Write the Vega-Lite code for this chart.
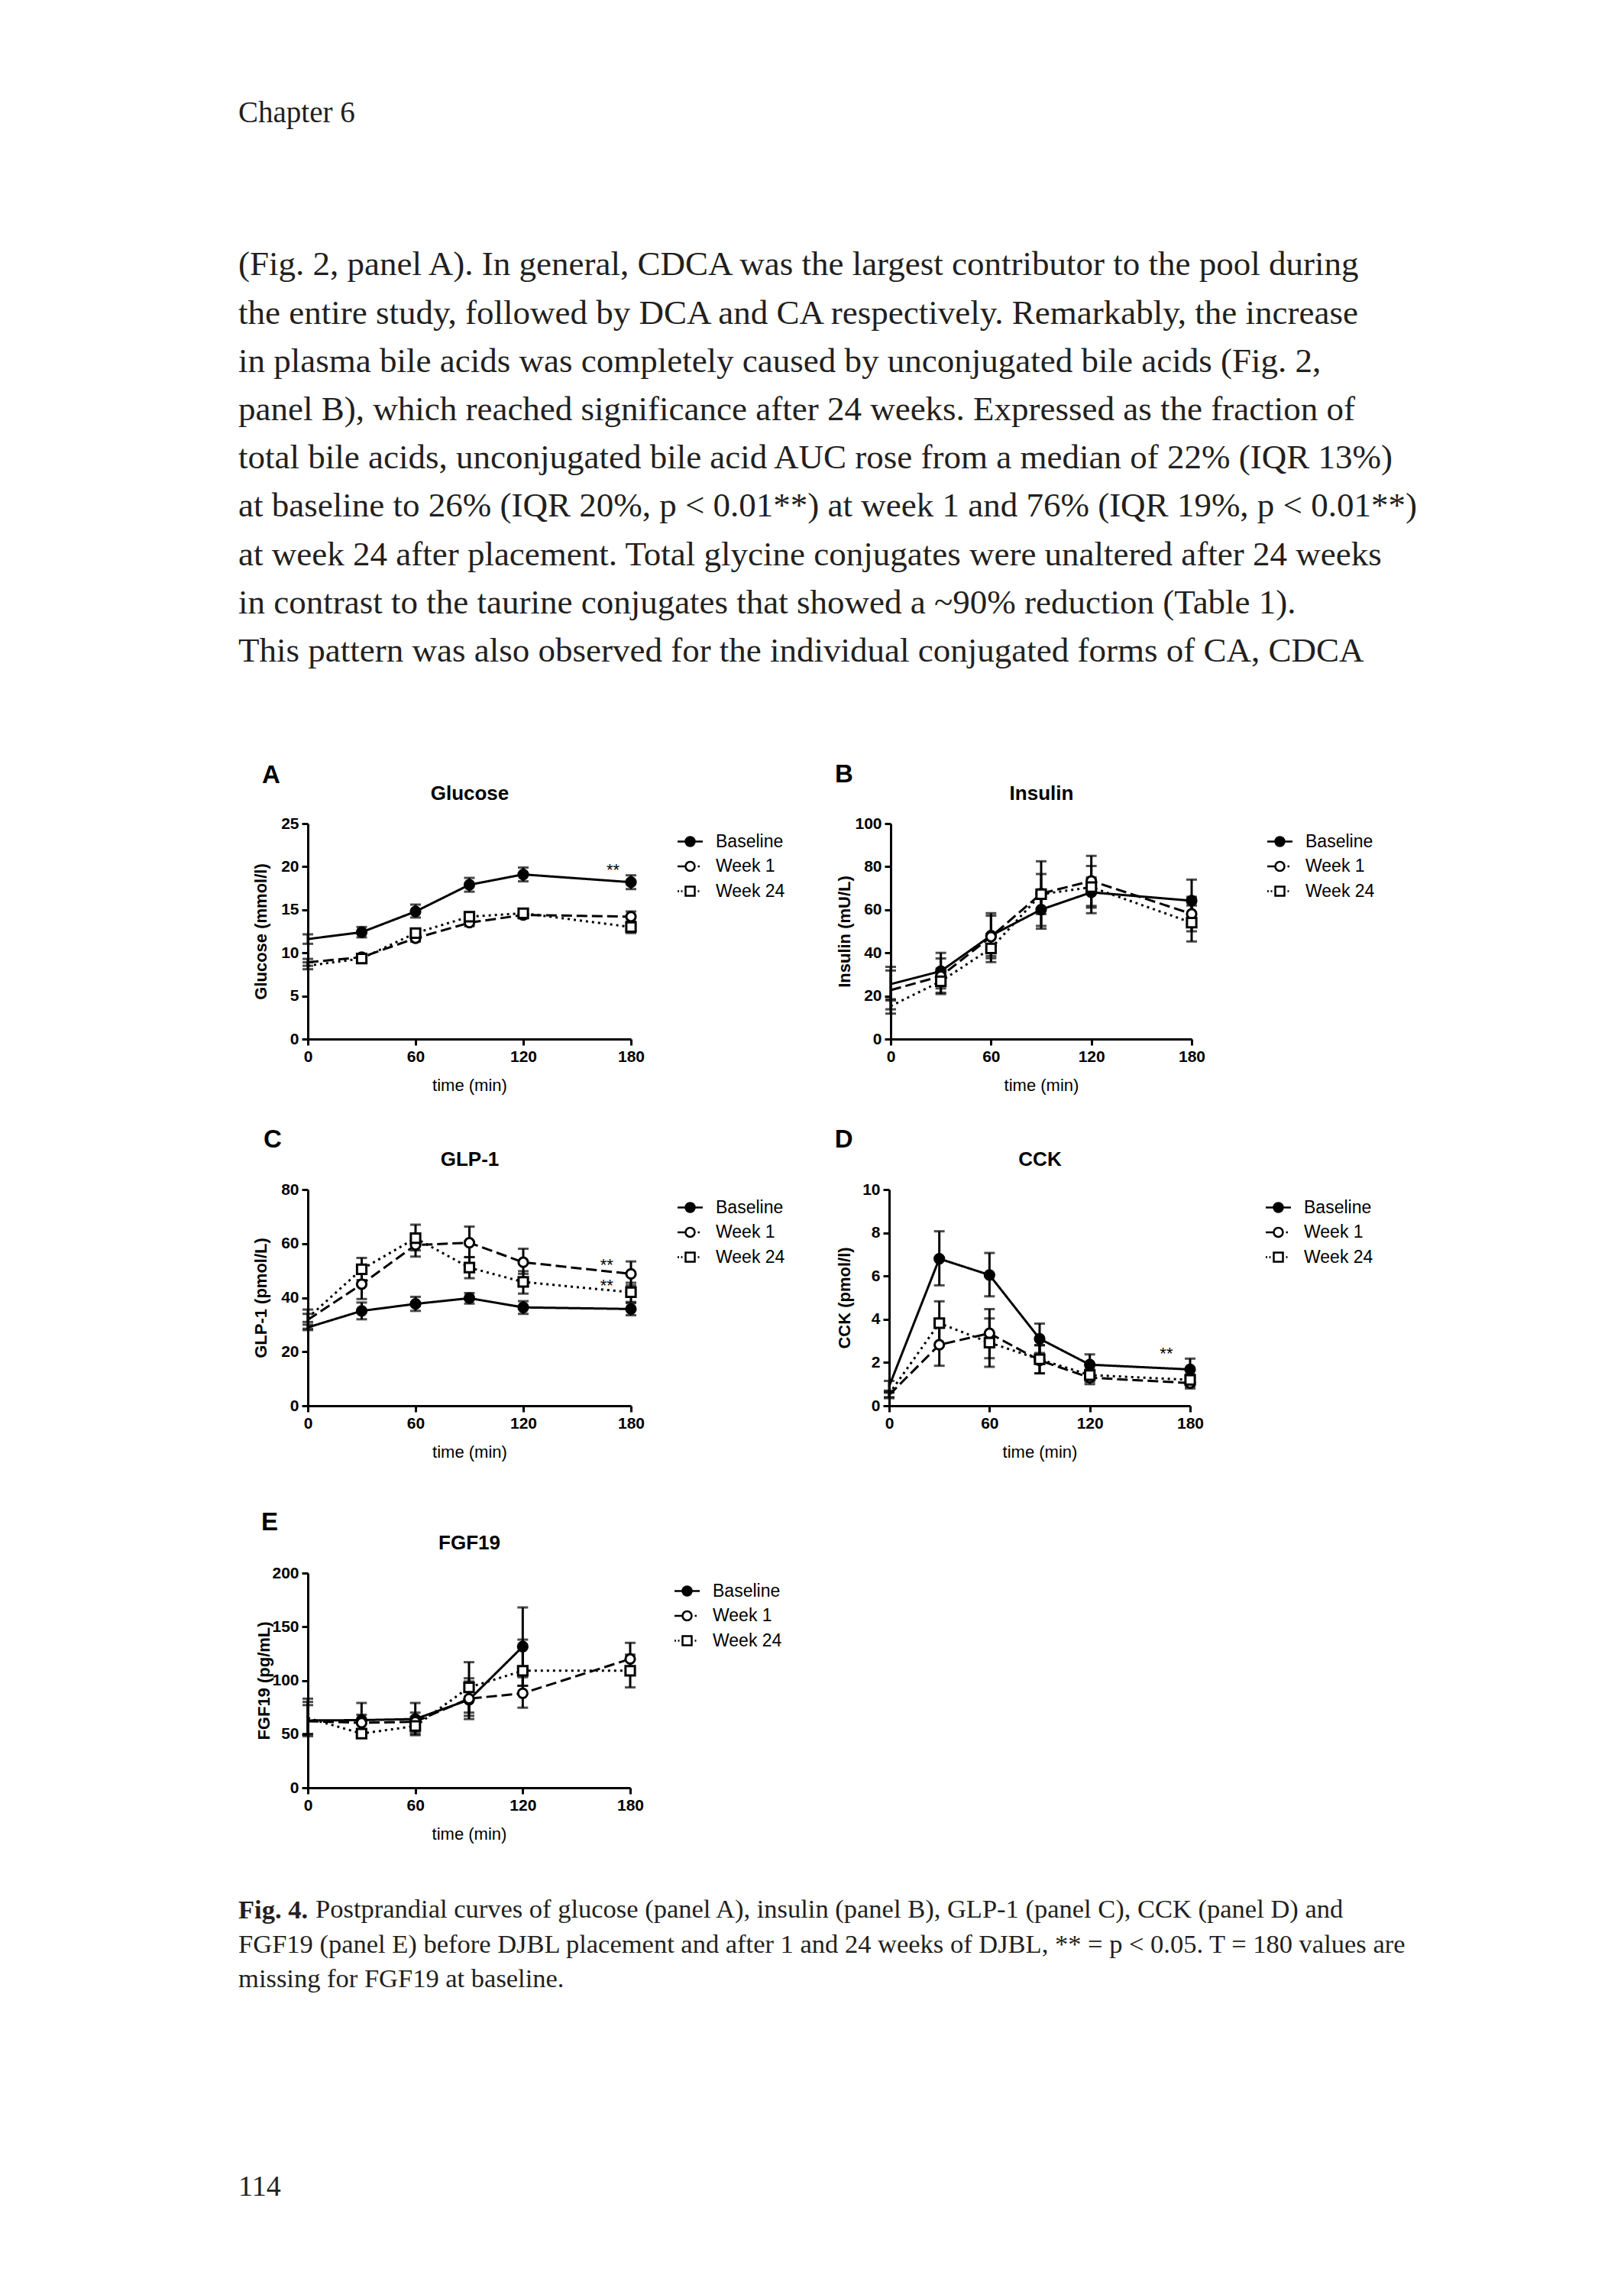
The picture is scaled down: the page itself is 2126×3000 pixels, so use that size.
{
"$schema": "https://vega.github.io/schema/vega-lite/v6.json",
"background": "white",
"padding": {"left": 312, "top": 129, "right": 20, "bottom": 20},
"config": {
  "view": {"stroke": null},
  "font": "Liberation Sans",
  "axis": {"domainColor": "black", "domainWidth": 3, "tickColor": "black", "tickWidth": 3, "tickSize": 8, "labelFont": "Liberation Sans", "labelFontSize": 21, "labelFontWeight": "bold", "labelColor": "black", "labelPadding": 4, "labelFlush": false, "grid": false, "titleFont": "Liberation Sans", "titleColor": "black", "titleFontSize": 22},
  "axisX": {"titleFontWeight": "normal", "titlePadding": 17},
  "axisY": {"titleFontWeight": "bold"},
  "legend": {"padding": 12, "symbolSize": 400, "symbolStrokeWidth": 2.5, "symbolStrokeColor": "black", "labelOffset": 22, "rowPadding": 8.5, "labelFontSize": 23, "labelFont": "Liberation Sans", "labelColor": "black"}
},
"datasets": {
  "d": [
    {"p":"A","s":"Baseline","t":0,"m":11.6,"lo":11.05,"hi":12.15},
    {"p":"A","s":"Baseline","t":30,"m":12.4,"lo":11.8,"hi":13.0},
    {"p":"A","s":"Baseline","t":60,"m":14.8,"lo":14.1,"hi":15.6},
    {"p":"A","s":"Baseline","t":90,"m":17.9,"lo":17.1,"hi":18.7},
    {"p":"A","s":"Baseline","t":120,"m":19.1,"lo":18.3,"hi":19.9},
    {"p":"A","s":"Baseline","t":180,"m":18.2,"lo":17.4,"hi":19.0},
    {"p":"A","s":"Week 1","t":0,"m":8.9,"lo":8.5,"hi":9.3},
    {"p":"A","s":"Week 1","t":30,"m":9.5,"lo":9.1,"hi":9.9},
    {"p":"A","s":"Week 1","t":60,"m":11.7,"lo":11.3,"hi":12.1},
    {"p":"A","s":"Week 1","t":90,"m":13.5,"lo":13.1,"hi":13.9},
    {"p":"A","s":"Week 1","t":120,"m":14.4,"lo":14.0,"hi":14.8},
    {"p":"A","s":"Week 1","t":180,"m":14.2,"lo":13.6,"hi":14.8},
    {"p":"A","s":"Week 24","t":0,"m":8.5,"lo":8.1,"hi":8.9},
    {"p":"A","s":"Week 24","t":30,"m":9.35,"lo":9.0,"hi":9.7},
    {"p":"A","s":"Week 24","t":60,"m":12.3,"lo":11.9,"hi":12.7},
    {"p":"A","s":"Week 24","t":90,"m":14.2,"lo":13.8,"hi":14.6},
    {"p":"A","s":"Week 24","t":120,"m":14.6,"lo":14.1,"hi":15.0},
    {"p":"A","s":"Week 24","t":180,"m":13.0,"lo":12.3,"hi":13.6},
    {"p":"B","s":"Baseline","t":0,"m":25.5,"lo":17.9,"hi":33.5},
    {"p":"B","s":"Baseline","t":30,"m":31.5,"lo":23.5,"hi":40.0},
    {"p":"B","s":"Baseline","t":60,"m":48.0,"lo":38.6,"hi":58.4},
    {"p":"B","s":"Baseline","t":90,"m":60.1,"lo":51.2,"hi":69.0},
    {"p":"B","s":"Baseline","t":120,"m":68.1,"lo":61.0,"hi":75.0},
    {"p":"B","s":"Baseline","t":180,"m":64.2,"lo":55.0,"hi":74.0},
    {"p":"B","s":"Week 1","t":0,"m":22.7,"lo":13.8,"hi":31.8},
    {"p":"B","s":"Week 1","t":30,"m":29.2,"lo":21.5,"hi":37.4},
    {"p":"B","s":"Week 1","t":60,"m":47.5,"lo":37.5,"hi":57.3},
    {"p":"B","s":"Week 1","t":90,"m":67.5,"lo":52.5,"hi":82.5},
    {"p":"B","s":"Week 1","t":120,"m":73.4,"lo":61.8,"hi":85.0},
    {"p":"B","s":"Week 1","t":180,"m":58.1,"lo":50.0,"hi":66.0},
    {"p":"B","s":"Week 24","t":0,"m":15.3,"lo":11.8,"hi":18.5},
    {"p":"B","s":"Week 24","t":30,"m":26.8,"lo":20.9,"hi":32.7},
    {"p":"B","s":"Week 24","t":60,"m":42.1,"lo":35.7,"hi":48.5},
    {"p":"B","s":"Week 24","t":90,"m":67.2,"lo":58.0,"hi":76.6},
    {"p":"B","s":"Week 24","t":120,"m":70.5,"lo":58.4,"hi":80.3},
    {"p":"B","s":"Week 24","t":180,"m":54.0,"lo":45.3,"hi":62.0},
    {"p":"C","s":"Baseline","t":0,"m":29.0,"lo":28.0,"hi":30.0},
    {"p":"C","s":"Baseline","t":30,"m":35.1,"lo":32.0,"hi":38.2},
    {"p":"C","s":"Baseline","t":60,"m":37.7,"lo":35.1,"hi":40.3},
    {"p":"C","s":"Baseline","t":90,"m":39.8,"lo":37.8,"hi":41.7},
    {"p":"C","s":"Baseline","t":120,"m":36.4,"lo":34.0,"hi":38.7},
    {"p":"C","s":"Baseline","t":180,"m":35.8,"lo":33.5,"hi":38.0},
    {"p":"C","s":"Week 1","t":0,"m":31.8,"lo":28.5,"hi":35.6},
    {"p":"C","s":"Week 1","t":30,"m":45.0,"lo":39.5,"hi":50.5},
    {"p":"C","s":"Week 1","t":60,"m":59.5,"lo":55.2,"hi":63.5},
    {"p":"C","s":"Week 1","t":90,"m":60.3,"lo":55.0,"hi":66.3},
    {"p":"C","s":"Week 1","t":120,"m":53.1,"lo":48.8,"hi":58.1},
    {"p":"C","s":"Week 1","t":180,"m":48.8,"lo":44.5,"hi":53.4},
    {"p":"C","s":"Week 24","t":0,"m":32.5,"lo":31.0,"hi":34.0},
    {"p":"C","s":"Week 24","t":30,"m":50.5,"lo":46.5,"hi":54.7},
    {"p":"C","s":"Week 24","t":60,"m":62.0,"lo":57.5,"hi":67.0},
    {"p":"C","s":"Week 24","t":90,"m":51.1,"lo":47.2,"hi":55.0},
    {"p":"C","s":"Week 24","t":120,"m":45.8,"lo":41.5,"hi":49.8},
    {"p":"C","s":"Week 24","t":180,"m":42.0,"lo":38.4,"hi":45.5},
    {"p":"D","s":"Baseline","t":0,"m":0.9,"lo":0.6,"hi":1.15},
    {"p":"D","s":"Baseline","t":30,"m":6.8,"lo":5.57,"hi":8.07},
    {"p":"D","s":"Baseline","t":60,"m":6.05,"lo":5.06,"hi":7.07},
    {"p":"D","s":"Baseline","t":90,"m":3.1,"lo":2.44,"hi":3.8},
    {"p":"D","s":"Baseline","t":120,"m":1.9,"lo":1.44,"hi":2.38},
    {"p":"D","s":"Baseline","t":180,"m":1.68,"lo":1.2,"hi":2.18},
    {"p":"D","s":"Week 1","t":0,"m":0.5,"lo":0.35,"hi":0.65},
    {"p":"D","s":"Week 1","t":30,"m":2.82,"lo":1.85,"hi":3.8},
    {"p":"D","s":"Week 1","t":60,"m":3.35,"lo":2.2,"hi":4.47},
    {"p":"D","s":"Week 1","t":90,"m":2.1,"lo":1.5,"hi":2.8},
    {"p":"D","s":"Week 1","t":120,"m":1.3,"lo":1.0,"hi":1.6},
    {"p":"D","s":"Week 1","t":180,"m":1.05,"lo":0.8,"hi":1.3},
    {"p":"D","s":"Week 24","t":0,"m":0.55,"lo":0.4,"hi":0.7},
    {"p":"D","s":"Week 24","t":30,"m":3.82,"lo":2.82,"hi":4.83},
    {"p":"D","s":"Week 24","t":60,"m":2.92,"lo":1.8,"hi":4.04},
    {"p":"D","s":"Week 24","t":90,"m":2.15,"lo":1.5,"hi":2.8},
    {"p":"D","s":"Week 24","t":120,"m":1.42,"lo":1.1,"hi":1.7},
    {"p":"D","s":"Week 24","t":180,"m":1.2,"lo":0.9,"hi":1.45},
    {"p":"E","s":"Baseline","t":0,"m":62.7,"lo":48,"hi":83},
    {"p":"E","s":"Baseline","t":30,"m":63,"lo":50,"hi":79},
    {"p":"E","s":"Baseline","t":60,"m":64,"lo":50,"hi":79},
    {"p":"E","s":"Baseline","t":90,"m":82,"lo":64,"hi":102},
    {"p":"E","s":"Baseline","t":120,"m":131.5,"lo":95,"hi":168},
    {"p":"E","s":"Week 1","t":0,"m":62,"lo":50,"hi":77},
    {"p":"E","s":"Week 1","t":30,"m":60.5,"lo":52,"hi":68},
    {"p":"E","s":"Week 1","t":60,"m":61.5,"lo":52,"hi":70},
    {"p":"E","s":"Week 1","t":90,"m":83,"lo":67,"hi":99},
    {"p":"E","s":"Week 1","t":120,"m":88,"lo":74.6,"hi":103},
    {"p":"E","s":"Week 1","t":180,"m":120,"lo":107,"hi":135},
    {"p":"E","s":"Week 24","t":0,"m":65,"lo":50,"hi":80},
    {"p":"E","s":"Week 24","t":30,"m":50.5,"lo":48,"hi":53},
    {"p":"E","s":"Week 24","t":60,"m":57.5,"lo":49,"hi":66},
    {"p":"E","s":"Week 24","t":90,"m":93.5,"lo":70,"hi":117},
    {"p":"E","s":"Week 24","t":120,"m":109,"lo":95,"hi":138},
    {"p":"E","s":"Week 24","t":180,"m":109,"lo":93.5,"hi":124}
  ],
  "ann": [
    {"p":"A","t":170,"v":20.0,"label":"**"},
    {"p":"C","t":166.5,"v":53.5,"label":"**"},
    {"p":"C","t":166.5,"v":45.8,"label":"**"},
    {"p":"D","t":165.8,"v":2.59,"label":"**"}
  ]
},
"title": {"text": "114", "orient": "bottom", "anchor": "start", "frame": "bounds", "offset": 236, "font": "Liberation Serif", "fontSize": 38, "fontWeight": "normal", "color": "#231f20"},
"vconcat": [{
 "title": {"text": ["FGF19 (panel E) before DJBL placement and after 1 and 24 weeks of DJBL, ** = p < 0.05. T = 180 values are", "missing for FGF19 at baseline."], "lineHeight": 45.5, "orient": "bottom", "anchor": "start", "frame": "bounds", "offset": 11, "font": "Liberation Serif", "fontSize": 34.5, "fontWeight": "normal", "color": "#231f20"},
 "vconcat": [{
  "title": {"text": "Postprandial curves of glucose (panel A), insulin (panel B), GLP-1 (panel C), CCK (panel D) and", "orient": "bottom", "anchor": "start", "frame": "bounds", "dx": 101, "offset": -34.5, "font": "Liberation Serif", "fontSize": 34.5, "fontWeight": "normal", "color": "#231f20"},
  "vconcat": [{
   "title": {"text": "Fig. 4.", "orient": "bottom", "anchor": "start", "frame": "bounds", "offset": 73, "font": "Liberation Serif", "fontSize": 34.5, "fontWeight": "bold", "color": "#231f20"},
   "vconcat": [{
    "title": {"text": "Chapter 6", "subtitle": ["(Fig. 2, panel A). In general, CDCA was the largest contributor to the pool during", "the entire study, followed by DCA and CA respectively. Remarkably, the increase", "in plasma bile acids was completely caused by unconjugated bile acids (Fig. 2,", "panel B), which reached significance after 24 weeks. Expressed as the fraction of", "total bile acids, unconjugated bile acid AUC rose from a median of 22% (IQR 13%)", "at baseline to 26% (IQR 20%, p < 0.01**) at week 1 and 76% (IQR 19%, p < 0.01**)", "at week 24 after placement. Total glycine conjugates were unaltered after 24 weeks", "in contrast to the taurine conjugates that showed a ~90% reduction (Table 1).", "This pattern was also observed for the individual conjugated forms of CA, CDCA"], "anchor": "start", "frame": "bounds", "dx": -18, "offset": 123, "font": "Liberation Serif", "fontSize": 39, "fontWeight": "normal", "color": "#231f20", "subtitleFont": "Liberation Serif", "subtitleFontSize": 45, "subtitleColor": "#231f20", "subtitleLineHeight": 63.2, "subtitlePadding": 156},
    "spacing": 66,
    "resolve": {"scale": {"shape": "independent", "fill": "independent", "strokeDash": "independent"}},
    "vconcat": [
     {"spacing": 45,
      "resolve": {"scale": {"shape": "independent", "fill": "independent", "strokeDash": "independent"}},
      "vconcat": [
       {"hconcat": [
         {"width": 423, "height": 282,
          "title": {"text": "A", "anchor": "start", "frame": "bounds", "dx": 13, "offset": -33, "baseline": "alphabetic", "fontSize": 33, "fontWeight": "bold", "font": "Liberation Sans", "color": "black"},
          "data": {"name": "d"},
          "transform": [{"filter": "datum.p === 'A'"}],
          "resolve": {"axis": {"x": "independent"}},
          "layer": [
           {"mark": {"type": "rule", "strokeWidth": 3, "color": "black"},
            "encoding": {"x": {"field": "t", "type": "quantitative", "scale": {"domain": [0,180], "nice": false}, "axis": {"values": [0,60,120,180], "title": "time (min)"}},
                         "y": {"field": "lo", "type": "quantitative", "title": "Glucose (mmol/l)", "scale": {"domain": [0,25], "nice": false}, "axis": {"values": [0,5,10,15,20,25], "titlePadding": 14.6}},
                         "y2": {"field": "hi"}}},
           {"mark": {"type": "tick", "orient": "horizontal", "size": 14, "thickness": 3, "color": "black"},
            "encoding": {"x": {"field": "t", "type": "quantitative", "scale": {"domain": [0,180], "nice": false}, "axis": null}, "y": {"field": "lo", "type": "quantitative", "title": "Glucose (mmol/l)", "scale": {"domain": [0,25], "nice": false}}}},
           {"mark": {"type": "tick", "orient": "horizontal", "size": 14, "thickness": 3, "color": "black"},
            "encoding": {"x": {"field": "t", "type": "quantitative", "scale": {"domain": [0,180], "nice": false}, "axis": null}, "y": {"field": "hi", "type": "quantitative", "title": "Glucose (mmol/l)", "scale": {"domain": [0,25], "nice": false}}}},
           {"mark": {"type": "line", "strokeWidth": 3, "color": "black", "strokeCap": "butt"},
            "encoding": {"x": {"field": "t", "type": "quantitative", "scale": {"domain": [0,180], "nice": false}, "axis": null}, "y": {"field": "m", "type": "quantitative", "title": "Glucose (mmol/l)", "scale": {"domain": [0,25], "nice": false}},
                         "detail": {"field": "s"},
                         "strokeDash": {"condition": [{"test": "datum.s === 'Week 1'", "value": [14,6]}, {"test": "datum.s === 'Week 24'", "value": [3,5]}], "value": [1,0]}}},
           {"transform": [{"filter": "datum.t > 0"}],
            "mark": {"type": "point", "filled": true, "size": 150, "stroke": "black", "strokeWidth": 3, "opacity": 1},
            "encoding": {"x": {"field": "t", "type": "quantitative", "scale": {"domain": [0,180], "nice": false}, "axis": null}, "y": {"field": "m", "type": "quantitative", "title": "Glucose (mmol/l)", "scale": {"domain": [0,25], "nice": false}},
                         "shape": {"condition": {"test": "datum.s === 'Week 24'", "value": "square"}, "value": "circle"},
                         "fill": {"field": "s", "type": "nominal", "scale": {"domain": ["Baseline","Week 1","Week 24"], "range": ["black","white","white"]},
                                   "legend": {"title": null, "orient": "right", "offset": 48, "encoding": {"symbols": {"shape": {"value": {"expr": "datum.value === 'Baseline' ? 'M-1.65,0H-0.6M0.6,0H1.65M-0.6,0A0.6,0.6,0,1,1,0.6,0A0.6,0.6,0,1,1,-0.6,0Z' : datum.value === 'Week 1' ? 'M-1.65,0H-0.6M1.0,0H1.25M-0.6,0A0.6,0.6,0,1,1,0.6,0A0.6,0.6,0,1,1,-0.6,0Z' : 'M-1.65,0H-1.45M-1.2,0H-1.0M1.0,0H1.2M-0.6,-0.6H0.6V0.6H-0.6Z'"}}, "stroke": {"value": "black"}, "strokeWidth": {"value": 2.5}, "opacity": {"value": 1}}}}}}},
           {"data": {"name": "ann"}, "transform": [{"filter": "datum.p === 'A'"}],
            "mark": {"type": "text", "fontSize": 22, "font": "Liberation Sans", "color": "black", "dy": 5},
            "encoding": {"x": {"field": "t", "type": "quantitative", "scale": {"domain": [0,180], "nice": false}, "axis": {"orient": "top", "title": "Glucose", "labels": false, "ticks": false, "domain": false, "titleFontSize": 26, "titleFontWeight": "bold", "titlePadding": 27}},
                         "y": {"field": "v", "type": "quantitative", "title": "Glucose (mmol/l)", "scale": {"domain": [0,25], "nice": false}},
                         "text": {"field": "label"}}}
          ]},
         {"width": 394, "height": 282,
          "title": {"text": "B", "anchor": "start", "frame": "bounds", "dx": -2, "offset": -32, "baseline": "alphabetic", "fontSize": 33, "fontWeight": "bold", "font": "Liberation Sans", "color": "black"},
          "data": {"name": "d"},
          "transform": [{"filter": "datum.p === 'B'"}],
          "resolve": {"axis": {"x": "independent"}},
          "layer": [
           {"mark": {"type": "rule", "strokeWidth": 3, "color": "black"},
            "encoding": {"x": {"field": "t", "type": "quantitative", "scale": {"domain": [0,180], "nice": false}, "axis": {"values": [0,60,120,180], "title": "time (min)"}},
                         "y": {"field": "lo", "type": "quantitative", "title": "Insulin (mU/L)", "scale": {"domain": [0,100], "nice": false}, "axis": {"values": [0,20,40,60,80,100], "titlePadding": 1}},
                         "y2": {"field": "hi"}}},
           {"mark": {"type": "tick", "orient": "horizontal", "size": 14, "thickness": 3, "color": "black"},
            "encoding": {"x": {"field": "t", "type": "quantitative", "scale": {"domain": [0,180], "nice": false}, "axis": null}, "y": {"field": "lo", "type": "quantitative", "title": "Insulin (mU/L)", "scale": {"domain": [0,100], "nice": false}}}},
           {"mark": {"type": "tick", "orient": "horizontal", "size": 14, "thickness": 3, "color": "black"},
            "encoding": {"x": {"field": "t", "type": "quantitative", "scale": {"domain": [0,180], "nice": false}, "axis": null}, "y": {"field": "hi", "type": "quantitative", "title": "Insulin (mU/L)", "scale": {"domain": [0,100], "nice": false}}}},
           {"mark": {"type": "line", "strokeWidth": 3, "color": "black", "strokeCap": "butt"},
            "encoding": {"x": {"field": "t", "type": "quantitative", "scale": {"domain": [0,180], "nice": false}, "axis": null}, "y": {"field": "m", "type": "quantitative", "title": "Insulin (mU/L)", "scale": {"domain": [0,100], "nice": false}},
                         "detail": {"field": "s"},
                         "strokeDash": {"condition": [{"test": "datum.s === 'Week 1'", "value": [14,6]}, {"test": "datum.s === 'Week 24'", "value": [3,5]}], "value": [1,0]}}},
           {"transform": [{"filter": "datum.t > 0"}],
            "mark": {"type": "point", "filled": true, "size": 150, "stroke": "black", "strokeWidth": 3, "opacity": 1},
            "encoding": {"x": {"field": "t", "type": "quantitative", "scale": {"domain": [0,180], "nice": false}, "axis": null}, "y": {"field": "m", "type": "quantitative", "title": "Insulin (mU/L)", "scale": {"domain": [0,100], "nice": false}},
                         "shape": {"condition": {"test": "datum.s === 'Week 24'", "value": "square"}, "value": "circle"},
                         "fill": {"field": "s", "type": "nominal", "scale": {"domain": ["Baseline","Week 1","Week 24"], "range": ["black","white","white"]},
                                   "legend": {"title": null, "orient": "right", "offset": 86, "encoding": {"symbols": {"shape": {"value": {"expr": "datum.value === 'Baseline' ? 'M-1.65,0H-0.6M0.6,0H1.65M-0.6,0A0.6,0.6,0,1,1,0.6,0A0.6,0.6,0,1,1,-0.6,0Z' : datum.value === 'Week 1' ? 'M-1.65,0H-0.6M1.0,0H1.25M-0.6,0A0.6,0.6,0,1,1,0.6,0A0.6,0.6,0,1,1,-0.6,0Z' : 'M-1.65,0H-1.45M-1.2,0H-1.0M1.0,0H1.2M-0.6,-0.6H0.6V0.6H-0.6Z'"}}, "stroke": {"value": "black"}, "strokeWidth": {"value": 2.5}, "opacity": {"value": 1}}}}}}},
           {"data": {"name": "ann"}, "transform": [{"filter": "datum.p === 'B'"}],
            "mark": {"type": "text", "fontSize": 22, "font": "Liberation Sans", "color": "black", "dy": 5},
            "encoding": {"x": {"field": "t", "type": "quantitative", "scale": {"domain": [0,180], "nice": false}, "axis": {"orient": "top", "title": "Insulin", "labels": false, "ticks": false, "domain": false, "titleFontSize": 26, "titleFontWeight": "bold", "titlePadding": 27}},
                         "y": {"field": "v", "type": "quantitative", "title": "Insulin (mU/L)", "scale": {"domain": [0,100], "nice": false}},
                         "text": {"field": "label"}}}
          ]}
        ],
        "spacing": 52,
        "resolve": {"scale": {"shape": "independent", "fill": "independent", "strokeDash": "independent"}}},
       {"hconcat": [
         {"width": 423, "height": 283,
          "title": {"text": "C", "anchor": "start", "frame": "bounds", "dx": 15, "offset": -31, "baseline": "alphabetic", "fontSize": 33, "fontWeight": "bold", "font": "Liberation Sans", "color": "black"},
          "data": {"name": "d"},
          "transform": [{"filter": "datum.p === 'C'"}],
          "resolve": {"axis": {"x": "independent"}},
          "layer": [
           {"mark": {"type": "rule", "strokeWidth": 3, "color": "black"},
            "encoding": {"x": {"field": "t", "type": "quantitative", "scale": {"domain": [0,180], "nice": false}, "axis": {"values": [0,60,120,180], "title": "time (min)"}},
                         "y": {"field": "lo", "type": "quantitative", "title": "GLP-1 (pmol/L)", "scale": {"domain": [0,80], "nice": false}, "axis": {"values": [0,20,40,60,80], "titlePadding": 14.6}},
                         "y2": {"field": "hi"}}},
           {"mark": {"type": "tick", "orient": "horizontal", "size": 14, "thickness": 3, "color": "black"},
            "encoding": {"x": {"field": "t", "type": "quantitative", "scale": {"domain": [0,180], "nice": false}, "axis": null}, "y": {"field": "lo", "type": "quantitative", "title": "GLP-1 (pmol/L)", "scale": {"domain": [0,80], "nice": false}}}},
           {"mark": {"type": "tick", "orient": "horizontal", "size": 14, "thickness": 3, "color": "black"},
            "encoding": {"x": {"field": "t", "type": "quantitative", "scale": {"domain": [0,180], "nice": false}, "axis": null}, "y": {"field": "hi", "type": "quantitative", "title": "GLP-1 (pmol/L)", "scale": {"domain": [0,80], "nice": false}}}},
           {"mark": {"type": "line", "strokeWidth": 3, "color": "black", "strokeCap": "butt"},
            "encoding": {"x": {"field": "t", "type": "quantitative", "scale": {"domain": [0,180], "nice": false}, "axis": null}, "y": {"field": "m", "type": "quantitative", "title": "GLP-1 (pmol/L)", "scale": {"domain": [0,80], "nice": false}},
                         "detail": {"field": "s"},
                         "strokeDash": {"condition": [{"test": "datum.s === 'Week 1'", "value": [14,6]}, {"test": "datum.s === 'Week 24'", "value": [3,5]}], "value": [1,0]}}},
           {"transform": [{"filter": "datum.t > 0"}],
            "mark": {"type": "point", "filled": true, "size": 150, "stroke": "black", "strokeWidth": 3, "opacity": 1},
            "encoding": {"x": {"field": "t", "type": "quantitative", "scale": {"domain": [0,180], "nice": false}, "axis": null}, "y": {"field": "m", "type": "quantitative", "title": "GLP-1 (pmol/L)", "scale": {"domain": [0,80], "nice": false}},
                         "shape": {"condition": {"test": "datum.s === 'Week 24'", "value": "square"}, "value": "circle"},
                         "fill": {"field": "s", "type": "nominal", "scale": {"domain": ["Baseline","Week 1","Week 24"], "range": ["black","white","white"]},
                                   "legend": {"title": null, "orient": "right", "offset": 48, "encoding": {"symbols": {"shape": {"value": {"expr": "datum.value === 'Baseline' ? 'M-1.65,0H-0.6M0.6,0H1.65M-0.6,0A0.6,0.6,0,1,1,0.6,0A0.6,0.6,0,1,1,-0.6,0Z' : datum.value === 'Week 1' ? 'M-1.65,0H-0.6M1.0,0H1.25M-0.6,0A0.6,0.6,0,1,1,0.6,0A0.6,0.6,0,1,1,-0.6,0Z' : 'M-1.65,0H-1.45M-1.2,0H-1.0M1.0,0H1.2M-0.6,-0.6H0.6V0.6H-0.6Z'"}}, "stroke": {"value": "black"}, "strokeWidth": {"value": 2.5}, "opacity": {"value": 1}}}}}}},
           {"data": {"name": "ann"}, "transform": [{"filter": "datum.p === 'C'"}],
            "mark": {"type": "text", "fontSize": 22, "font": "Liberation Sans", "color": "black", "dy": 5},
            "encoding": {"x": {"field": "t", "type": "quantitative", "scale": {"domain": [0,180], "nice": false}, "axis": {"orient": "top", "title": "GLP-1", "labels": false, "ticks": false, "domain": false, "titleFontSize": 26, "titleFontWeight": "bold", "titlePadding": 27}},
                         "y": {"field": "v", "type": "quantitative", "title": "GLP-1 (pmol/L)", "scale": {"domain": [0,80], "nice": false}},
                         "text": {"field": "label"}}}
          ]},
         {"width": 394, "height": 283,
          "title": {"text": "D", "anchor": "start", "frame": "bounds", "dx": -2, "offset": -31, "baseline": "alphabetic", "fontSize": 33, "fontWeight": "bold", "font": "Liberation Sans", "color": "black"},
          "data": {"name": "d"},
          "transform": [{"filter": "datum.p === 'D'"}],
          "resolve": {"axis": {"x": "independent"}},
          "layer": [
           {"mark": {"type": "rule", "strokeWidth": 3, "color": "black"},
            "encoding": {"x": {"field": "t", "type": "quantitative", "scale": {"domain": [0,180], "nice": false}, "axis": {"values": [0,60,120,180], "title": "time (min)"}},
                         "y": {"field": "lo", "type": "quantitative", "title": "CCK (pmol/l)", "scale": {"domain": [0,10], "nice": false}, "axis": {"values": [0,2,4,6,8,10], "titlePadding": 11}},
                         "y2": {"field": "hi"}}},
           {"mark": {"type": "tick", "orient": "horizontal", "size": 14, "thickness": 3, "color": "black"},
            "encoding": {"x": {"field": "t", "type": "quantitative", "scale": {"domain": [0,180], "nice": false}, "axis": null}, "y": {"field": "lo", "type": "quantitative", "title": "CCK (pmol/l)", "scale": {"domain": [0,10], "nice": false}}}},
           {"mark": {"type": "tick", "orient": "horizontal", "size": 14, "thickness": 3, "color": "black"},
            "encoding": {"x": {"field": "t", "type": "quantitative", "scale": {"domain": [0,180], "nice": false}, "axis": null}, "y": {"field": "hi", "type": "quantitative", "title": "CCK (pmol/l)", "scale": {"domain": [0,10], "nice": false}}}},
           {"mark": {"type": "line", "strokeWidth": 3, "color": "black", "strokeCap": "butt"},
            "encoding": {"x": {"field": "t", "type": "quantitative", "scale": {"domain": [0,180], "nice": false}, "axis": null}, "y": {"field": "m", "type": "quantitative", "title": "CCK (pmol/l)", "scale": {"domain": [0,10], "nice": false}},
                         "detail": {"field": "s"},
                         "strokeDash": {"condition": [{"test": "datum.s === 'Week 1'", "value": [14,6]}, {"test": "datum.s === 'Week 24'", "value": [3,5]}], "value": [1,0]}}},
           {"transform": [{"filter": "datum.t > 0"}],
            "mark": {"type": "point", "filled": true, "size": 150, "stroke": "black", "strokeWidth": 3, "opacity": 1},
            "encoding": {"x": {"field": "t", "type": "quantitative", "scale": {"domain": [0,180], "nice": false}, "axis": null}, "y": {"field": "m", "type": "quantitative", "title": "CCK (pmol/l)", "scale": {"domain": [0,10], "nice": false}},
                         "shape": {"condition": {"test": "datum.s === 'Week 24'", "value": "square"}, "value": "circle"},
                         "fill": {"field": "s", "type": "nominal", "scale": {"domain": ["Baseline","Week 1","Week 24"], "range": ["black","white","white"]},
                                   "legend": {"title": null, "orient": "right", "offset": 86, "encoding": {"symbols": {"shape": {"value": {"expr": "datum.value === 'Baseline' ? 'M-1.65,0H-0.6M0.6,0H1.65M-0.6,0A0.6,0.6,0,1,1,0.6,0A0.6,0.6,0,1,1,-0.6,0Z' : datum.value === 'Week 1' ? 'M-1.65,0H-0.6M1.0,0H1.25M-0.6,0A0.6,0.6,0,1,1,0.6,0A0.6,0.6,0,1,1,-0.6,0Z' : 'M-1.65,0H-1.45M-1.2,0H-1.0M1.0,0H1.2M-0.6,-0.6H0.6V0.6H-0.6Z'"}}, "stroke": {"value": "black"}, "strokeWidth": {"value": 2.5}, "opacity": {"value": 1}}}}}}},
           {"data": {"name": "ann"}, "transform": [{"filter": "datum.p === 'D'"}],
            "mark": {"type": "text", "fontSize": 22, "font": "Liberation Sans", "color": "black", "dy": 5},
            "encoding": {"x": {"field": "t", "type": "quantitative", "scale": {"domain": [0,180], "nice": false}, "axis": {"orient": "top", "title": "CCK", "labels": false, "ticks": false, "domain": false, "titleFontSize": 26, "titleFontWeight": "bold", "titlePadding": 27}},
                         "y": {"field": "v", "type": "quantitative", "title": "CCK (pmol/l)", "scale": {"domain": [0,10], "nice": false}},
                         "text": {"field": "label"}}}
          ]}
        ],
        "spacing": 52,
        "resolve": {"scale": {"shape": "independent", "fill": "independent", "strokeDash": "independent"}}}
      ]},
     {"width": 422, "height": 281,
      "title": {"text": "E", "anchor": "start", "frame": "bounds", "dx": 7, "offset": -30, "baseline": "alphabetic", "fontSize": 33, "fontWeight": "bold", "font": "Liberation Sans", "color": "black"},
      "data": {"name": "d"},
      "transform": [{"filter": "datum.p === 'E'"}],
      "resolve": {"axis": {"x": "independent"}},
      "layer": [
       {"mark": {"type": "rule", "strokeWidth": 3, "color": "black"},
        "encoding": {"x": {"field": "t", "type": "quantitative", "scale": {"domain": [0,180], "nice": false}, "axis": {"values": [0,60,120,180], "title": "time (min)"}},
                     "y": {"field": "lo", "type": "quantitative", "title": "FGF19 (pg/mL)", "scale": {"domain": [0,200], "nice": false}, "axis": {"values": [0,50,100,150,200], "titlePadding": -2}},
                     "y2": {"field": "hi"}}},
       {"mark": {"type": "tick", "orient": "horizontal", "size": 14, "thickness": 3, "color": "black"},
        "encoding": {"x": {"field": "t", "type": "quantitative", "scale": {"domain": [0,180], "nice": false}, "axis": null}, "y": {"field": "lo", "type": "quantitative", "title": "FGF19 (pg/mL)", "scale": {"domain": [0,200], "nice": false}}}},
       {"mark": {"type": "tick", "orient": "horizontal", "size": 14, "thickness": 3, "color": "black"},
        "encoding": {"x": {"field": "t", "type": "quantitative", "scale": {"domain": [0,180], "nice": false}, "axis": null}, "y": {"field": "hi", "type": "quantitative", "title": "FGF19 (pg/mL)", "scale": {"domain": [0,200], "nice": false}}}},
       {"mark": {"type": "line", "strokeWidth": 3, "color": "black", "strokeCap": "butt"},
        "encoding": {"x": {"field": "t", "type": "quantitative", "scale": {"domain": [0,180], "nice": false}, "axis": null}, "y": {"field": "m", "type": "quantitative", "title": "FGF19 (pg/mL)", "scale": {"domain": [0,200], "nice": false}},
                     "detail": {"field": "s"},
                     "strokeDash": {"condition": [{"test": "datum.s === 'Week 1'", "value": [14,6]}, {"test": "datum.s === 'Week 24'", "value": [3,5]}], "value": [1,0]}}},
       {"transform": [{"filter": "datum.t > 0"}],
        "mark": {"type": "point", "filled": true, "size": 150, "stroke": "black", "strokeWidth": 3, "opacity": 1},
        "encoding": {"x": {"field": "t", "type": "quantitative", "scale": {"domain": [0,180], "nice": false}, "axis": null}, "y": {"field": "m", "type": "quantitative", "title": "FGF19 (pg/mL)", "scale": {"domain": [0,200], "nice": false}},
                     "shape": {"condition": {"test": "datum.s === 'Week 24'", "value": "square"}, "value": "circle"},
                     "fill": {"field": "s", "type": "nominal", "scale": {"domain": ["Baseline","Week 1","Week 24"], "range": ["black","white","white"]},
                               "legend": {"title": null, "orient": "right", "offset": 45, "encoding": {"symbols": {"shape": {"value": {"expr": "datum.value === 'Baseline' ? 'M-1.65,0H-0.6M0.6,0H1.65M-0.6,0A0.6,0.6,0,1,1,0.6,0A0.6,0.6,0,1,1,-0.6,0Z' : datum.value === 'Week 1' ? 'M-1.65,0H-0.6M1.0,0H1.25M-0.6,0A0.6,0.6,0,1,1,0.6,0A0.6,0.6,0,1,1,-0.6,0Z' : 'M-1.65,0H-1.45M-1.2,0H-1.0M1.0,0H1.2M-0.6,-0.6H0.6V0.6H-0.6Z'"}}, "stroke": {"value": "black"}, "strokeWidth": {"value": 2.5}, "opacity": {"value": 1}}}}}}},
       {"data": {"name": "ann"}, "transform": [{"filter": "datum.p === 'E'"}],
        "mark": {"type": "text", "fontSize": 22, "font": "Liberation Sans", "color": "black", "dy": 5},
        "encoding": {"x": {"field": "t", "type": "quantitative", "scale": {"domain": [0,180], "nice": false}, "axis": {"orient": "top", "title": "FGF19", "labels": false, "ticks": false, "domain": false, "titleFontSize": 26, "titleFontWeight": "bold", "titlePadding": 27}},
                     "y": {"field": "v", "type": "quantitative", "title": "FGF19 (pg/mL)", "scale": {"domain": [0,200], "nice": false}},
                     "text": {"field": "label"}}}
      ]}
    ]}]
  }]
 }]
}]
}
